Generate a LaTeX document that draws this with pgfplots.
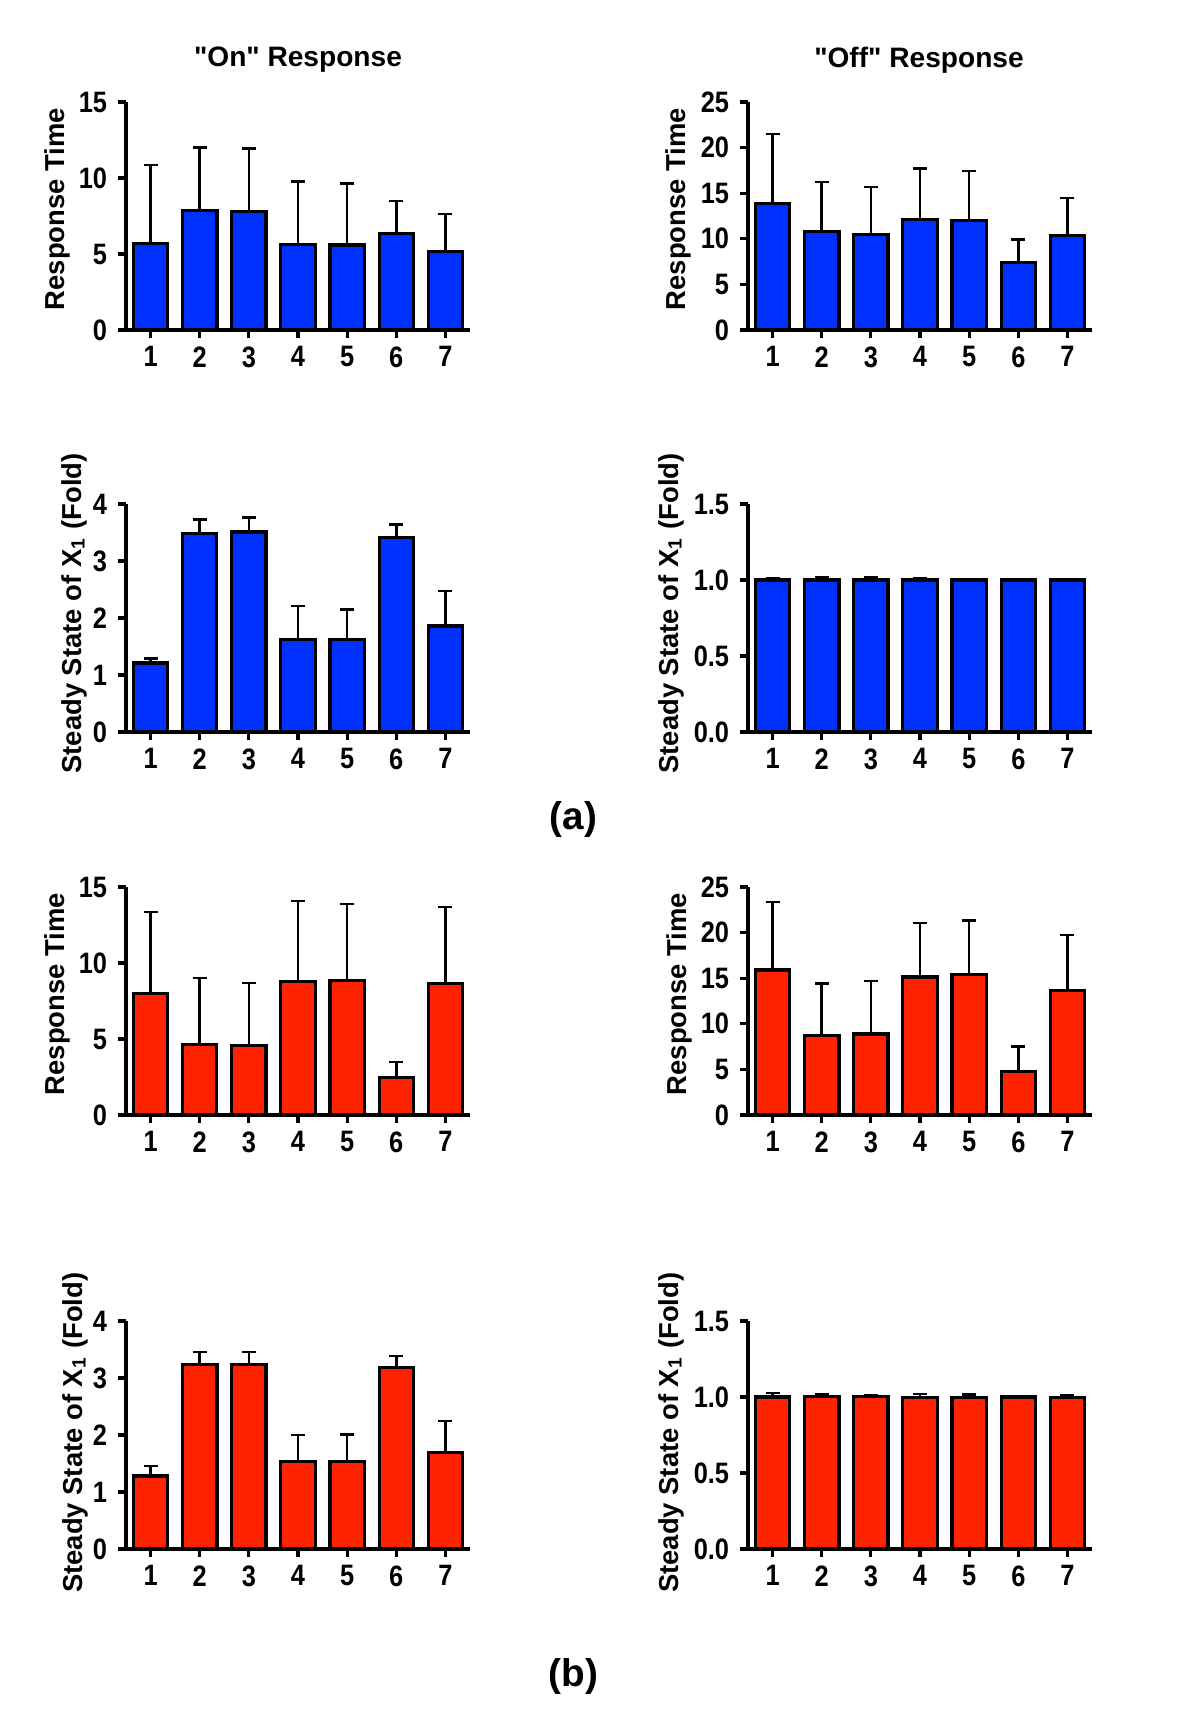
\documentclass[border=0pt]{standalone}
\usepackage{fontspec}
\setmainfont{Liberation Sans}
\newfontfamily\narrowsans[FakeStretch=0.86]{Liberation Sans}
\usepackage{pgfplots}
\usepackage{pgfplotstable}
\pgfplotsset{compat=1.18}

\definecolor{onblue}{RGB}{0,48,255}
\definecolor{offred}{RGB}{255,34,0}

% mean, upper error
\pgfplotstableread{
x y e
1 5.70 5.17
2 7.87 4.15
3 7.78 4.15
4 5.61 4.15
5 5.59 4.04
6 6.33 2.15
7 5.15 2.48
}\aOnRT
\pgfplotstableread{
x y e
1 13.90 7.60
2 10.78 5.44
3 10.45 5.22
4 12.08 5.62
5 12.05 5.40
6 7.37 2.53
7 10.34 4.16
}\aOffRT
\pgfplotstableread{
x y e
1 1.21 0.08
2 3.48 0.25
3 3.51 0.25
4 1.63 0.58
5 1.62 0.53
6 3.41 0.23
7 1.86 0.61
}\aOnSS
\pgfplotstableread{
x y e
1 1.00 0.012
2 1.00 0.016
3 1.00 0.020
4 1.00 0.012
5 1.00 0.008
6 1.00 0.0
7 1.00 0.0
}\aOffSS
\pgfplotstableread{
x y e
1 7.98 5.39
2 4.63 4.39
3 4.57 4.13
4 8.80 5.27
5 8.85 5.05
6 2.46 1.04
7 8.67 5.03
}\bOnRT
\pgfplotstableread{
x y e
1 15.90 7.47
2 8.73 5.69
3 8.88 5.79
4 15.14 5.91
5 15.40 5.94
6 4.78 2.72
7 13.62 6.13
}\bOffRT
\pgfplotstableread{
x y e
1 1.28 0.18
2 3.24 0.22
3 3.24 0.22
4 1.53 0.47
5 1.53 0.48
6 3.19 0.20
7 1.69 0.56
}\bOnSS
\pgfplotstableread{
x y e
1 1.000 0.028
2 1.006 0.015
3 1.004 0.010
4 0.998 0.022
5 0.998 0.018
6 1.000 0.0
7 0.996 0.015
}\bOffSS

\pgfplotsset{
  panel/.style={
    width=34.4mm, height=22.8mm, scale only axis,
    xmin=0.5, xmax=7.5, ymin=0,
    axis x line*=bottom, axis y line*=left,
    axis line style={-, line width=0.9pt},
    xtick={1,...,7},
    tick align=outside, major tick length=0.8mm,
    tick style={black, line width=0.9pt},
    /pgf/number format/assume math mode=true,
    ticklabel style={font=\narrowsans\bfseries\fontsize{8.4}{9}\selectfont},
    xticklabel shift=-0.4mm,
    yticklabel shift=-0.15mm,
    ylabel style={font=\bfseries\fontsize{7.8}{9}\selectfont, anchor=center},
    ybar, bar width=0.7,
    clip=false,
  },
  rt/.style={ylabel={Response Time}},
  ss/.style={ylabel={Steady State of X\textsubscript{1} (Fold)}},
  bars/.style={
    fill=#1, draw=black, line width=0.9pt,
    error bars/.cd, y dir=plus, y explicit,
    error bar style={line width=0.7pt, black},
    error mark options={rotate=90, line width=0.7pt, mark size=0.7mm, black},
  },
}

\begin{document}
\begin{tikzpicture}
\path[use as bounding box] (0,0) rectangle (120mm,-173.2mm);

\node[font=\bfseries\fontsize{8}{9}\selectfont] at (29.8mm,-6.0mm) {\textquotedbl On\textquotedbl{} Response};
\node[font=\bfseries\fontsize{8}{9}\selectfont] at (91.9mm,-6.0mm) {\textquotedbl Off\textquotedbl{} Response};

% (a) row 1
\begin{axis}[panel, rt, at={(12.6mm,-33.0mm)}, anchor=south west,
  ymax=15, ytick={0,5,10,15},
  ylabel style={at={(axis description cs:-0.199,0.53)}}]
\addplot[bars=onblue] table[x=x, y=y, y error=e] {\aOnRT};
\end{axis}
\begin{axis}[panel, rt, at={(74.8mm,-33.0mm)}, anchor=south west,
  ymax=25, ytick={0,5,10,15,20,25},
  ylabel style={at={(axis description cs:-0.202,0.53)}}]
\addplot[bars=onblue] table[x=x, y=y, y error=e] {\aOffRT};
\end{axis}

% (a) row 2
\begin{axis}[panel, ss, at={(12.6mm,-73.2mm)}, anchor=south west,
  ymax=4, ytick={0,1,2,3,4},
  ylabel style={at={(axis description cs:-0.151,0.52)}}]
\addplot[bars=onblue] table[x=x, y=y, y error=e] {\aOnSS};
\end{axis}
\begin{axis}[panel, ss, at={(74.8mm,-73.2mm)}, anchor=south west,
  ymax=1.5, ytick={0,0.5,1,1.5}, yticklabels={0.0,0.5,1.0,1.5},
  ylabel style={at={(axis description cs:-0.224,0.52)}}]
\addplot[bars=onblue] table[x=x, y=y, y error=e] {\aOffSS};
\end{axis}

\node[font=\bfseries\fontsize{11}{13}\selectfont] at (57.35mm,-81.9mm) {(a)};

% (b) row 1
\begin{axis}[panel, rt, at={(12.6mm,-111.5mm)}, anchor=south west,
  ymax=15, ytick={0,5,10,15},
  ylabel style={at={(axis description cs:-0.2,0.53)}}]
\addplot[bars=offred] table[x=x, y=y, y error=e] {\bOnRT};
\end{axis}
\begin{axis}[panel, rt, at={(74.8mm,-111.5mm)}, anchor=south west,
  ymax=25, ytick={0,5,10,15,20,25},
  ylabel style={at={(axis description cs:-0.2,0.53)}}]
\addplot[bars=offred] table[x=x, y=y, y error=e] {\bOffRT};
\end{axis}

% (b) row 2
\begin{axis}[panel, ss, at={(12.6mm,-154.9mm)}, anchor=south west,
  ymax=4, ytick={0,1,2,3,4},
  ylabel style={at={(axis description cs:-0.148,0.51)}}]
\addplot[bars=offred] table[x=x, y=y, y error=e] {\bOnSS};
\end{axis}
\begin{axis}[panel, ss, at={(74.8mm,-154.9mm)}, anchor=south west,
  ymax=1.5, ytick={0,0.5,1,1.5}, yticklabels={0.0,0.5,1.0,1.5},
  ylabel style={at={(axis description cs:-0.224,0.51)}}]
\addplot[bars=offred] table[x=x, y=y, y error=e] {\bOffSS};
\end{axis}

\node[font=\bfseries\fontsize{11}{13}\selectfont] at (57.35mm,-167.6mm) {(b)};
\end{tikzpicture}
\end{document}
